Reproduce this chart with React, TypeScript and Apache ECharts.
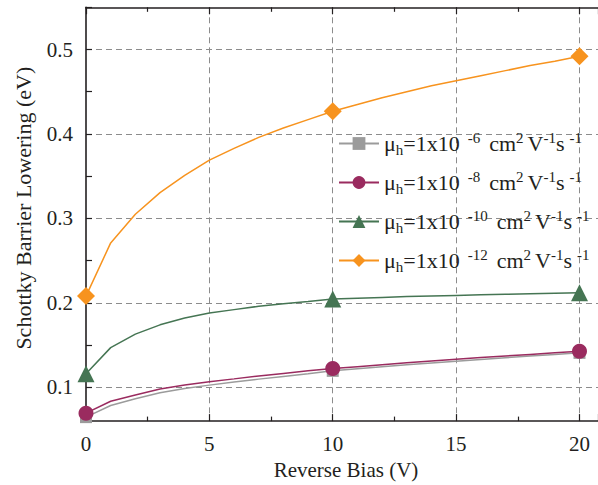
import React, { useEffect, useRef } from "react";
import * as echarts from "echarts";

// ---- data ----
const biasV = [0, 1, 2, 3, 4, 5, 6, 7, 8, 9, 10, 11, 12, 13, 14, 15, 16, 17, 18, 19, 20];

const lowering1e6 = [0.0647, 0.0785, 0.0865, 0.0935, 0.0985, 0.1026, 0.1062, 0.1097, 0.1129, 0.116, 0.1195, 0.122, 0.1244, 0.1267, 0.1289, 0.131, 0.133, 0.135, 0.137, 0.1389, 0.1408];
const lowering1e8 = [0.0694, 0.0835, 0.091, 0.098, 0.1027, 0.1066, 0.11, 0.1135, 0.1165, 0.1195, 0.1222, 0.1245, 0.1268, 0.129, 0.1311, 0.1332, 0.1352, 0.1371, 0.139, 0.1408, 0.1426];
const lowering1e10 = [0.116, 0.147, 0.163, 0.174, 0.182, 0.188, 0.192, 0.196, 0.199, 0.2015, 0.2045, 0.2055, 0.2065, 0.2075, 0.2082, 0.2088, 0.2095, 0.2102, 0.2108, 0.2114, 0.212];
const lowering1e12 = [0.208, 0.271, 0.305, 0.3305, 0.351, 0.369, 0.383, 0.396, 0.407, 0.417, 0.427, 0.435, 0.443, 0.45, 0.457, 0.463, 0.469, 0.475, 0.481, 0.486, 0.492];

const markedBias = [0, 10, 20];

const seriesNames = ["mu_h 1e-6", "mu_h 1e-8", "mu_h 1e-10", "mu_h 1e-12"];
const mobilityExponents = ["-6", "-8", "-10", "-12"];
const seriesValues = [lowering1e6, lowering1e8, lowering1e10, lowering1e12];
const seriesColors = ["#9b9b9b", "#9a2b5f", "#457553", "#f7931e"];
const seriesSymbols = ["rect", "circle", "triangle", "diamond"];
const seriesSymbolSizes = [12, 15, 17, 18];

const xTitle = "Reverse Bias (V)";
const yTitle = "Schottky Barrier Lowering (eV)";

const FONT = "'Liberation Serif', 'DejaVu Serif', serif";
const INK = "#231f20";

export default function App() {
  const ref = useRef<HTMLDivElement>(null);

  useEffect(() => {
    if (!ref.current) return;
    const chart = echarts.init(ref.current, undefined, { renderer: "svg" });

    const series = seriesNames.map((name, k) => ({
      name,
      type: "line",
      clip: false,
      showAllSymbol: true,
      symbol: seriesSymbols[k],
      symbolSize: seriesSymbolSizes[k],
      z: 2 + k,
      lineStyle: { color: seriesColors[k], width: 1.5 },
      itemStyle: { color: seriesColors[k] },
      data: biasV.map((x, i) =>
        markedBias.includes(x)
          ? { value: [x, seriesValues[k][i]] }
          : { value: [x, seriesValues[k][i]], symbol: "none" }
      ),
    }));

    const tickLine = { color: INK, width: 1.2 };
    const main = { fontFamily: FONT, fontSize: 22, color: INK, lineHeight: 27 };
    const small = { fontFamily: FONT, fontSize: 15, color: INK, lineHeight: 14 };

    chart.setOption({
      animation: false,
      textStyle: { fontFamily: FONT },
      grid: { left: 86, right: -2, top: 7.3, bottom: 59.5, containLabel: false },
      legend: {
        orient: "vertical",
        left: 333,
        top: 125,
        itemWidth: 40,
        itemHeight: 16,
        itemGap: 12,
        selectedMode: false,
        data: seriesNames,
        formatter: (name: string) => {
          const exp = mobilityExponents[seriesNames.indexOf(name)];
          return `{n|μ}{sub|h}{n|=1x10}{supg|${exp}}{ng|cm}{sup|2}{ns|V}{sup|-1}{n|s}{sups|-1}`;
        },
        textStyle: {
          fontFamily: FONT,
          color: INK,
          rich: {
            n: main,
            ng: { ...main, padding: [0, 0, 0, 9] },
            ns: { ...main, padding: [0, 0, 0, 4] },
            sub: { ...small, verticalAlign: "bottom" },
            sup: { ...small, verticalAlign: "top" },
            supg: { ...small, verticalAlign: "top", padding: [0, 0, 0, 8] },
            sups: { ...small, verticalAlign: "top", padding: [0, 0, 0, 5] },
          },
        },
      },
      xAxis: [
        {
          type: "value",
          position: "bottom",
          min: 0,
          max: 20.75,
          splitNumber: 5,
          axisLine: { show: true, onZero: false, lineStyle: { color: INK, width: 1.6 } },
          axisTick: { show: true, inside: true, length: 7, lineStyle: tickLine },
          minorTick: { show: true, splitNumber: 2, length: 4.5, lineStyle: tickLine },
          axisLabel: {
            showMaxLabel: false,
            margin: 12,
            fontFamily: FONT,
            fontSize: 21,
            color: INK,
          },
          splitLine: {
            show: true,
            showMinLine: false,
            showMaxLine: false,
            lineStyle: { color: "#8c8c8c", width: 1, type: [6, 4] },
          },
          name: xTitle,
          nameLocation: "middle",
          nameGap: 34,
          nameTextStyle: { fontFamily: FONT, fontSize: 21, color: INK, padding: [0, 0, 0, 8] },
        },
        {
          type: "value",
          position: "top",
          min: 0,
          max: 20.75,
          splitNumber: 5,
          axisLine: { show: true, onZero: false, lineStyle: { color: INK, width: 1.6 } },
          axisTick: { show: true, inside: true, length: 7, lineStyle: tickLine },
          minorTick: { show: true, splitNumber: 2, length: 4.5, lineStyle: tickLine },
          axisLabel: { show: false },
          splitLine: { show: false },
        },
      ],
      yAxis: {
        type: "value",
        min: 0.06,
        max: 0.55,
        splitNumber: 5,
        axisLine: { show: true, onZero: false, lineStyle: { color: INK, width: 1.6 } },
        axisTick: { show: true, inside: true, length: 6, lineStyle: tickLine },
        minorTick: { show: true, splitNumber: 2, length: 6, lineStyle: tickLine },
        axisLabel: {
          showMinLabel: false,
          showMaxLabel: false,
          margin: 13,
          fontFamily: FONT,
          fontSize: 21,
          color: INK,
        },
        splitLine: {
          show: true,
          showMinLine: false,
          showMaxLine: false,
          lineStyle: { color: "#8c8c8c", width: 1, type: [6, 4] },
        },
        name: yTitle,
        nameLocation: "middle",
        nameGap: 52,
        nameTextStyle: { fontFamily: FONT, fontSize: 22, color: INK, padding: [0, 0, 0, 12] },
      },
      series,
    });

    return () => chart.dispose();
  }, []);

  return (
    <div
      ref={ref}
      style={{ position: "absolute", left: 0, top: 0, width: 598, height: 485 }}
    />
  );
}
